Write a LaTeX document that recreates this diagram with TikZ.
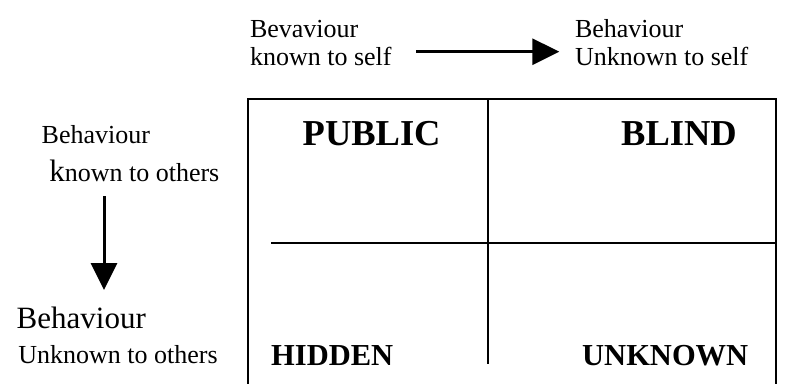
\documentclass[tikz,border=0pt]{standalone}
\usepackage{fontspec}
\setmainfont{Liberation Serif}
\usetikzlibrary{arrows.meta}
\begin{document}
\begin{tikzpicture}[x=1pt,y=-1pt,
  lbl/.style={anchor=base west,inner sep=0pt,outer sep=0pt,font=\fontsize{26}{30}\selectfont},
  biglbl/.style={lbl,font=\fontsize{31}{36}\selectfont},
  quad/.style={anchor=base west,inner sep=0pt,font=\fontsize{36.5}{40}\selectfont\bfseries},
  quadsm/.style={quad,font=\fontsize{30.5}{34}\selectfont\bfseries},
  grid/.style={line width=1.9pt,line cap=rect},
  bigarrow/.style={line width=3pt,-{Triangle[length=27pt,width=26pt]}}]
\useasboundingbox (0,0) rectangle (786,383);

% axis labels along the top
\node[lbl] (selfk1) at (250,37) {Bevaviour};
\node[lbl] (selfk2) at (250,65) {known to self};
\node[lbl] (selfu1) at (575,37) {Behaviour};
\node[lbl] (selfu2) at (575,65) {Unknown to self};

% axis labels down the left side
\node[lbl] (othk1) at (41.7,143.3) {Behaviour};
\node[lbl] (othk2) at (49.3,181.7) {{\fontsize{31}{36}\selectfont k}nown to others};
\node[biglbl] (othu1) at (16.7,328.3) {Behaviour};
\node[lbl] (othu2) at (18.3,363.3) {Unknown to others};

% arrows
\coordinate (hstart) at (416,51.7);
\coordinate (hend) at (559.3,51.7);
\coordinate (vstart) at (104,196);
\coordinate (vend) at (104,290);
\draw[bigarrow] (hstart) -- (hend);
\draw[bigarrow] (vstart) -- (vend);

% the window frame (open at the bottom)
\draw[grid] (248,383) -- (248,99) -- (776,99) -- (776,383);
\draw[grid] (488.3,99) -- (488.3,363.3);
\draw[grid] (272,243.3) -- (776,243.3);

% quadrant names
\node[quad] (public) at (302.5,145) {PUBLIC};
\node[quad] (blind) at (621,145) {BLIND};
\node[quadsm] (hidden) at (271,365) {HIDDEN};
\node[quadsm] (unknown) at (582,365) {UNKNOWN};
\end{tikzpicture}
\end{document}
